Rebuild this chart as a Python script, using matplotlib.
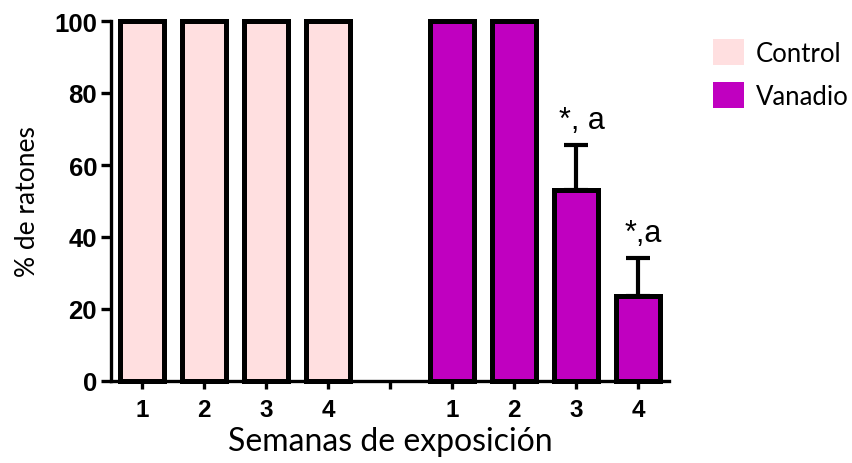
import numpy as np
import matplotlib.pyplot as plt
from matplotlib.patches import Patch

# Porcentaje de ratones por semana de exposición
semanas = ['1', '2', '3', '4']
control = [100, 100, 100, 100]
vanadio = [100, 100, 53, 23.5]
vanadio_err = [0, 0, 12.5, 10.6]
etiquetas = ['', '', '*, a', '*,a']

col_control = '#FFDFE0'
col_vanadio = '#C000C0'

fig = plt.figure(figsize=(8.52, 4.64), dpi=100)
ax = fig.add_axes([111 / 852, 82 / 464, 558 / 852, 360 / 464])

x_control = np.arange(len(control))
x_vanadio = np.arange(len(vanadio)) + len(control) + 1

ax.bar(x_control, control, width=0.7, color=col_control, edgecolor='black',
       linewidth=3.6, clip_on=False, zorder=3)
ax.bar(x_vanadio, vanadio, width=0.7, color=col_vanadio, edgecolor='black',
       linewidth=3.6, clip_on=False, zorder=3)

# solo la barra de error superior
err = np.array(vanadio_err)
mask = err > 0
ax.errorbar(x_vanadio[mask], np.array(vanadio)[mask],
            yerr=[np.zeros(mask.sum()), err[mask]], fmt='none',
            ecolor='black', elinewidth=3, capsize=8.5, capthick=3, zorder=2)

for xi, yi, ei, txt in zip(x_vanadio, vanadio, vanadio_err, etiquetas):
    if txt:
        ax.text(xi + 0.09, yi + ei + 4.7, txt, ha='center', va='baseline',
                fontsize=22, family='Liberation Sans')

ax.set_xlim(-0.5, 8.5)
ax.set_ylim(0, 100)
ax.set_yticks([0, 20, 40, 60, 80, 100])
ticks = list(x_control) + [len(control)] + list(x_vanadio)
ax.set_xticks(ticks)
ax.set_xticklabels(semanas + [''] + semanas)

for s in ['top', 'right']:
    ax.spines[s].set_visible(False)
for s in ['left', 'bottom']:
    ax.spines[s].set_linewidth(2.4)

ax.tick_params(axis='y', length=7, width=2.4, labelsize=18.5, pad=3)
ax.tick_params(axis='x', length=6, width=2.4, labelsize=17.5, pad=6)
for lab in ax.get_xticklabels() + ax.get_yticklabels():
    lab.set_family('Liberation Sans')
    lab.set_fontweight('bold')

ax.set_xlabel('Semanas de exposición', fontsize=23, family='Lato', labelpad=4)
ax.set_ylabel('% de ratones', fontsize=19, family='Lato', labelpad=10)

handles = [Patch(facecolor=col_control, label='Control'),
           Patch(facecolor=col_vanadio, label='Vanadio')]
fig.legend(handles=handles, loc='upper left', bbox_to_anchor=(690 / 852, 1 - 17 / 464),
           frameon=False, prop={'family': 'Lato', 'size': 18.5},
           handlelength=1.2, handleheight=1.15, labelspacing=0.65, handletextpad=0.45)

plt.savefig('out.png', dpi=100)
